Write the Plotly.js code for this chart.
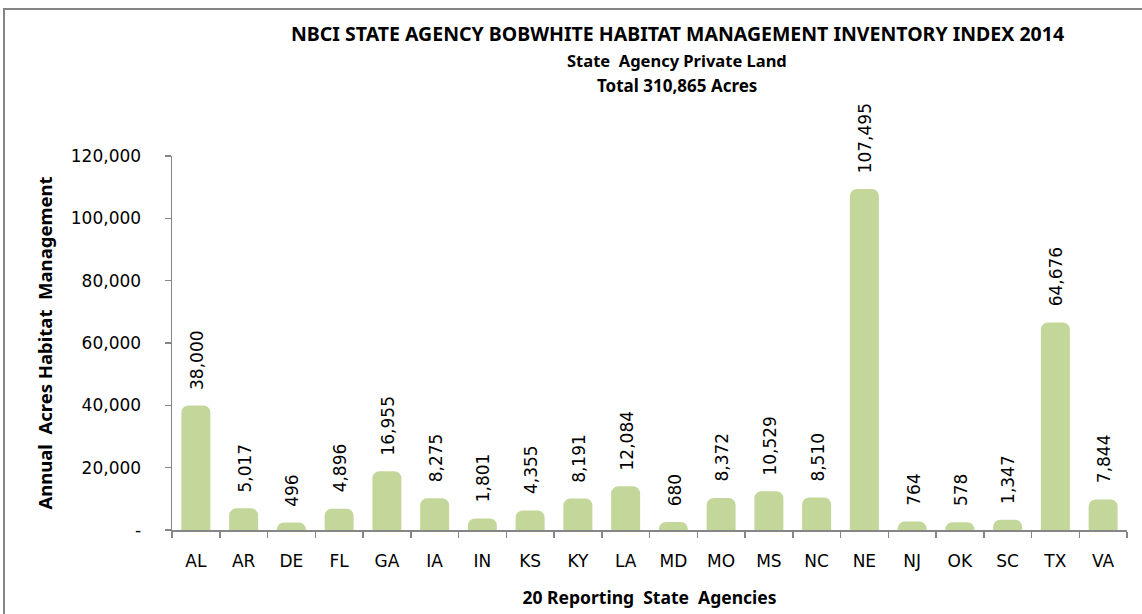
<!DOCTYPE html>
<html><head><meta charset="utf-8">
<script src="https://cdn.plot.ly/plotly-3.0.1.min.js"></script>
<style>
html,body{margin:0;padding:0;background:#fff;}
#wrap{position:relative;width:1142px;height:614px;overflow:hidden;background:#fff;}
#frame{position:absolute;left:3px;top:8px;width:1200px;height:700px;border-left:2px solid #858585;border-top:2px solid #858585;box-sizing:border-box;}
#chart{position:absolute;left:0;top:0;width:1142px;height:614px;}
</style></head>
<body><div id="wrap"><div id="frame"></div><div id="chart"></div></div>
<script>
const states = ["AL","AR","DE","FL","GA","IA","IN","KS","KY","LA","MD","MO","MS","NC","NE","NJ","OK","SC","TX","VA"];
const acres = [38000,5017,496,4896,16955,8275,1801,4355,8191,12084,680,8372,10529,8510,107495,764,578,1347,64676,7844];
const yTickVals = [0,20000,40000,60000,80000,100000,120000];
const yTickText = ["-","20,000","40,000","60,000","80,000","100,000","120,000"];
const titleLines = ["NBCI STATE AGENCY BOBWHITE HABITAT MANAGEMENT INVENTORY INDEX 2014","State  Agency Private Land","Total 310,865 Acres"];
const xTitle = "20 Reporting  State  Agencies";
const yTitle = "Annual  Acres Habitat  Management";

const FR = '"DejaVu Sans", "Noto Sans", sans-serif';
const FB = '"Noto Sans", "Open Sans", sans-serif';
const barColor = '#c4d79b';
const axisColor = '#868686';

const trace = {
  type:'bar', x:states, y:acres,
  marker:{color:barColor, cornerradius:1, line:{color:barColor, width:12}},
  cliponaxis:true, hoverinfo:'skip'
};

const plotTop = 156, plotH = 374, plotL = 172, plotW = 955;
const lineY = [33,60,86];
const lineSize = [19.5,16.5,17];

const titleAnns = titleLines.map((t,i)=>({
  text:'<b>'+t+'</b>', xref:'paper', yref:'paper',
  x:(677-plotL)/plotW, y:(plotTop+plotH-lineY[i])/plotH,
  showarrow:false, xanchor:'center', yanchor:'middle',
  font:{family:FB, size:lineSize[i], color:'#000'}
}));
const labelAnns = states.map((s,i)=>({
  x:s, y:acres[i], xref:'x', yref:'y',
  text:acres[i].toLocaleString('en-US'),
  textangle:-90, showarrow:false, xanchor:'center', yanchor:'bottom',
  yshift:20, xshift:1,
  font:{family:FR, size:17, color:'#000'}
}));

const layout = {
  width:1142, height:614,
  margin:{l:plotL, r:1142-plotL-plotW, t:plotTop, b:614-plotTop-plotH},
  paper_bgcolor:'rgba(0,0,0,0)', plot_bgcolor:'rgba(0,0,0,0)',
  bargap:0.644, showlegend:false,
  xaxis:{
    type:'category', showline:true, linecolor:axisColor, linewidth:1.5,
    ticks:'outside', tickson:'boundaries', ticklen:6, tickcolor:axisColor, tickwidth:1.5,
    ticklabelstandoff:15,
    tickfont:{family:FR, size:17, color:'#000'},
    title:{text:'<b>'+xTitle+'</b>', font:{family:FB, size:17.5, color:'#000'}, standoff:22},
    fixedrange:true
  },
  yaxis:{
    range:[0,120000], showline:true, linecolor:axisColor, linewidth:1.5,
    showgrid:false, zeroline:false,
    ticks:'outside', ticklen:6, tickcolor:axisColor, tickwidth:1.5,
    tickvals:yTickVals, ticktext:yTickText, ticklabelstandoff:20,
    tickfont:{family:FR, size:17, color:'#000'},
    title:{text:'<b>'+yTitle+'</b>', font:{family:FB, size:18.5, color:'#000'}, standoff:13},
    fixedrange:true
  },
  annotations: titleAnns.concat(labelAnns)
};
Plotly.newPlot('chart',[trace],layout,{displayModeBar:false, staticPlot:true});
</script></body></html>
